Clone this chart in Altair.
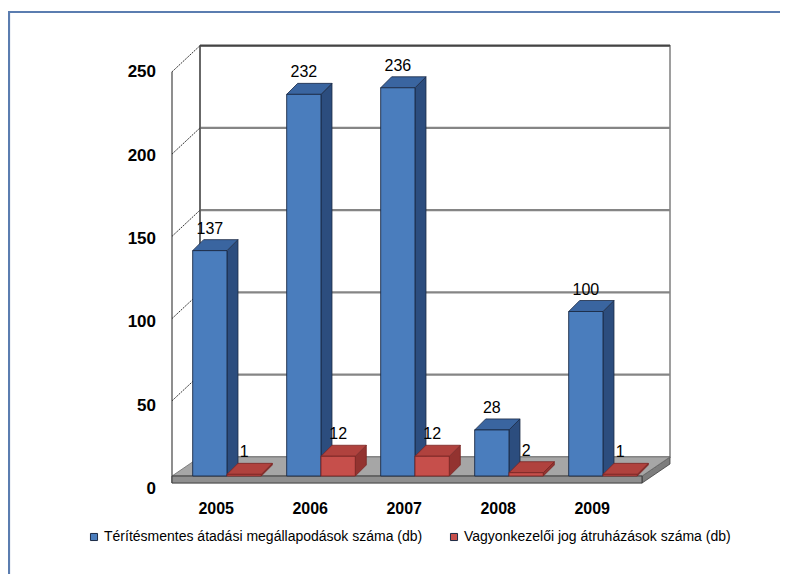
import altair as alt
import pandas as pd

# ---------------- data ----------------
years = ["2005", "2006", "2007", "2008", "2009"]
series = ["Térítésmentes átadási megállapodások száma (db)",
          "Vagyonkezelői jog átruházások száma (db)"]
s_blue = [137, 232, 236, 28, 100]
s_red = [1, 12, 12, 2, 1]
y_ticks = [0, 50, 100, 150, 200, 250]

# ---------------- style / geometry ----------------
W, H = 772, 566
PX_SLOT, PX_UNIT = 94.0, 1.645          # pixels per category slot / per value unit
X0_PAGE, Y0_PAGE = 172.0, 476.0         # where slot 0 / value 0 sit on the page
XMIN = (8 - X0_PAGE) / PX_SLOT
XMAX = (8 + W - X0_PAGE) / PX_SLOT
YMIN = (Y0_PAGE - (8 + H)) / PX_UNIT
YMAX = (Y0_PAGE - 8) / PX_UNIT
xs = alt.Scale(domain=[XMIN, XMAX], nice=False, zero=False)
ys = alt.Scale(domain=[YMIN, YMAX], nice=False, zero=False)

WALL_DU = 28 / PX_SLOT      # depth of the 3D box (slot units)
WALL_DV = 11.6              # depth of the 3D box (value units) at the floor
FRONT_DV = -4.3             # front edge of the box below the floor top
BAR_DU = 11 / PX_SLOT
BAR_DV = 11 / PX_UNIT
BAR_OFF = [0.22, 0.585]
BAR_W = 0.365
N = len(years)

FONT = "Liberation Sans, Arial, sans-serif"
front_cols = ["#4a7dbd", "#c64f4b"]
side_cols = ["#2c4d7e", "#933330"]
top_cols = ["#3a65a0", "#b0423e"]
edge_cols = ["#1b2a45", "#7a2624"]

X = lambda f, **k: alt.X(f, type="quantitative", scale=xs, axis=None, **k)
Y = lambda f, **k: alt.Y(f, type="quantitative", scale=ys, axis=None, **k)

# ---------------- box (walls and floor) ----------------
back = pd.DataFrame({"x": [WALL_DU], "x2": [N + WALL_DU],
                     "y": [WALL_DV], "y2": [y_ticks[-1] + WALL_DV]})
back_wall = alt.Chart(back).mark_rect(fill="white", stroke="#7f7f7f", strokeWidth=1.5).encode(
    x=X("x"), x2="x2", y=Y("y"), y2="y2")

grid = pd.DataFrame({"t": y_ticks[1:]})
grid["y"] = grid["t"] + WALL_DV
grid["x"] = WALL_DU
grid["x2"] = N + WALL_DU
grid_lines = alt.Chart(grid).mark_rule(color="#858585", strokeWidth=2.2).encode(
    x=X("x"), x2="x2", y=Y("y"))
top_edge = alt.Chart(grid[grid["t"] == y_ticks[-1]]).mark_rule(color="#444444", strokeWidth=1.8).encode(
    x=X("x"), x2="x2", y=Y("y"))

diag = pd.DataFrame({"t": y_ticks})
diag["xa"] = 0.0
diag["xb"] = WALL_DU
diag["ya"] = diag["t"] + FRONT_DV
diag["yb"] = diag["t"] + WALL_DV
left_diag = alt.Chart(diag[diag["t"] > 0]).mark_rule(color="#333333", strokeWidth=1, strokeDash=[2, 1]).encode(
    x=X("xa"), x2="xb", y=Y("ya"), y2="yb")
verts = pd.DataFrame({"x": [0.0, WALL_DU], "y": [FRONT_DV, WALL_DV],
                      "y2": [y_ticks[-1] + FRONT_DV, y_ticks[-1] + WALL_DV]})
left_verts = alt.Chart(verts).mark_rule(color="#444444", strokeWidth=1.2).encode(
    x=X("x"), y=Y("y"), y2="y2")

floor_top_df = pd.DataFrame({"y": [0.0, WALL_DV], "x": [0.0, WALL_DU], "x2": [float(N), N + WALL_DU]})
floor_top = alt.Chart(floor_top_df).mark_area(orient="horizontal", fill="#a6a6a6",
                                              stroke="#6a6a6a", strokeWidth=0.8).encode(
    y=Y("y"), x=X("x"), x2="x2")
floor_front_df = pd.DataFrame({"x": [0.0], "x2": [float(N)], "y": [FRONT_DV], "y2": [0.0]})
floor_front = alt.Chart(floor_front_df).mark_rect(fill="#8f8f8f", stroke="#3c3c3c", strokeWidth=1).encode(
    x=X("x"), x2="x2", y=Y("y"), y2="y2")
floor_side_df = pd.DataFrame({"x": [float(N), N + WALL_DU], "y": [0.0, WALL_DV],
                              "y2": [FRONT_DV, FRONT_DV + WALL_DV]})
floor_side = alt.Chart(floor_side_df).mark_area(fill="#7d7d7d", stroke="#3c3c3c", strokeWidth=0.8).encode(
    x=X("x"), y=Y("y"), y2="y2")

# ---------------- bars ----------------
def bar_layers(k, vals):
    rows, sides, tops = [], [], []
    for i, (yr, v) in enumerate(zip(years, vals)):
        x0 = i + BAR_OFF[k]
        x1 = x0 + BAR_W
        bid = f"{k}-{yr}"
        rows.append({"bid": bid, "year": yr, "series": series[k], "x0": x0, "x1": x1,
                     "v": v, "base": 0.0, "xc": (x0 + x1) / 2, "lab": v + BAR_DV,
                     "txt": str(v)})
        sides += [{"bid": bid, "x": x1, "top": v, "bot": 0.0},
                  {"bid": bid, "x": x1 + BAR_DU, "top": v + BAR_DV, "bot": BAR_DV}]
        tops += [{"bid": bid, "y": v, "xl": x0, "xr": x1},
                 {"bid": bid, "y": v + BAR_DV, "xl": x0 + BAR_DU, "xr": x1 + BAR_DU}]
    fr = pd.DataFrame(rows)
    sd = pd.DataFrame(sides)
    tp = pd.DataFrame(tops)
    side = alt.Chart(sd).mark_area(fill=side_cols[k], stroke=edge_cols[k], strokeWidth=0.8).encode(
        x=X("x"), y=Y("top"), y2="bot", detail="bid:N")
    top = alt.Chart(tp).mark_area(orient="horizontal", fill=top_cols[k], stroke=edge_cols[k],
                                  strokeWidth=0.8).encode(
        y=Y("y"), x=X("xl"), x2="xr", detail="bid:N")
    front = alt.Chart(fr).mark_rect(stroke=edge_cols[k], strokeWidth=0.9).encode(
        x=X("x0"), x2="x1", y=Y("base"), y2="v",
        fill=alt.Fill("series:N", sort=series,
                      scale=alt.Scale(domain=series, range=front_cols),
                      legend=alt.Legend(title=None, orient="none", direction="horizontal",
                                        legendX=79, legendY=522, symbolType="square",
                                        symbolSize=50, symbolStrokeColor="#1b2a45",
                                        symbolStrokeWidth=1, labelFont=FONT,
                                        labelFontSize=14, labelColor="#000000",
                                        labelLimit=500, labelOffset=3,
                                        columnPadding=24)))
    labels = alt.Chart(fr).mark_text(baseline="bottom", align="center", dy=-3, font=FONT,
                                     fontSize=16, color="#000000").encode(
        x=X("xc"), y=Y("lab"), text="txt:N")
    return [side, top, front], labels

blue_layers, blue_labels = bar_layers(0, s_blue)
red_layers, red_labels = bar_layers(1, s_red)

# ---------------- axis labels ----------------
ylab = pd.DataFrame({"t": y_ticks})
ylab["x"] = -0.17
ylab["y"] = ylab["t"] * 1.014 - 8.0
ylab["txt"] = ylab["t"].astype(str)
y_labels = alt.Chart(ylab).mark_text(align="right", baseline="middle", font=FONT, fontSize=17,
                                     fontWeight="bold", color="#000000").encode(
    x=X("x"), y=Y("y"), text="txt:N")

xlab = pd.DataFrame({"year": years})
xlab["x"] = [i + 0.47 for i in range(N)]
xlab["y"] = (Y0_PAGE - 509) / PX_UNIT
x_labels = alt.Chart(xlab).mark_text(align="center", baseline="middle", font=FONT, fontSize=16,
                                     fontWeight="bold", color="#000000").encode(
    x=X("x"), y=Y("y"), text="year:N")

# ---------------- outer frame ----------------
one = pd.DataFrame({"a": [0]})
frame_left = alt.Chart(one).mark_rule(color="#5b7db0", strokeWidth=2.2).encode(
    x=alt.value(1), y=alt.value(4), y2=alt.value(H))
frame_top = alt.Chart(one).mark_rule(color="#5b7db0", strokeWidth=2.2).encode(
    x=alt.value(0), x2=alt.value(W), y=alt.value(4))

chart = alt.layer(
    frame_left, frame_top,
    back_wall, grid_lines, top_edge, left_verts, left_diag,
    floor_side, floor_top, floor_front,
    *blue_layers, *red_layers,
    blue_labels, red_labels, y_labels, x_labels,
).properties(
    width=W, height=H,
    autosize=alt.AutoSizeParams(type="none"),
    padding=0,
    background="white",
).configure_view(stroke=None)

chart.save("out.html", embed_options={"renderer": "svg", "actions": False})
